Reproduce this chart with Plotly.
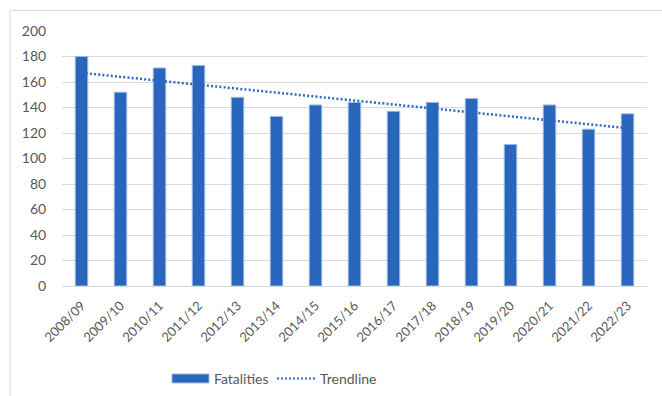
import numpy as np
import plotly.graph_objects as go

years = ["2008/09", "2009/10", "2010/11", "2011/12", "2012/13", "2013/14", "2014/15",
         "2015/16", "2016/17", "2017/18", "2018/19", "2019/20", "2020/21", "2021/22", "2022/23"]
fatalities = [180, 152, 171, 173, 148, 133, 142, 144, 137, 144, 147, 111, 142, 123, 135]

# linear trendline fitted to the data (as the spreadsheet trendline does)
idx = np.arange(len(fatalities))
slope, intercept = np.polyfit(idx, fatalities, 1)
trend = list(slope * idx + intercept)

font_family = "Lato, 'Open Sans', sans-serif"
grey = "#595959"
bar_color = "#2966BE"
bar_edge = "#9DB8E4"
trend_color = "#2E6AC3"

# plot area in pixels (for legend placement conversion)
L, R, T, B = 62, 647, 30.7, 286.3
W, H = R - L, B - T
px = lambda x: (x - L) / W
py = lambda y: (B - y) / H

fig = go.Figure()
fig.add_trace(go.Bar(
    x=years, y=fatalities, name="Fatalities",
    marker=dict(color=bar_color, line=dict(color=bar_edge, width=1)),
    width=0.32, showlegend=False,
))
fig.add_trace(go.Scatter(
    x=years, y=trend, name="Trendline", mode="lines",
    line=dict(color=trend_color, width=2.5, dash="2px,2.2px"), showlegend=False,
))

# outer chart frame (partially cropped on right and bottom)
fig.add_shape(type="line", xref="paper", yref="paper",
              x0=px(10), x1=px(700), y0=py(10), y1=py(10),
              line=dict(color="#D9D9D9", width=1))
fig.add_shape(type="line", xref="paper", yref="paper",
              x0=px(10), x1=px(10), y0=py(10), y1=py(420),
              line=dict(color="#D9D9D9", width=1))

# legend drawn like the spreadsheet legend
ly = 379
fig.add_shape(type="rect", xref="paper", yref="paper",
              x0=px(172), x1=px(209), y0=py(383.5), y1=py(374.5),
              fillcolor=bar_color, line=dict(color=bar_edge, width=1))
fig.add_annotation(xref="paper", yref="paper", x=px(212), y=py(ly), text="Fatalities",
                   showarrow=False, xanchor="left", yanchor="middle",
                   font=dict(size=14, color=grey))
fig.add_shape(type="line", xref="paper", yref="paper",
              x0=px(277), x1=px(317), y0=py(ly), y1=py(ly),
              line=dict(color=trend_color, width=2, dash="2px,2px"))
fig.add_annotation(xref="paper", yref="paper", x=px(318), y=py(ly), text="Trendline",
                   showarrow=False, xanchor="left", yanchor="middle",
                   font=dict(size=14, color=grey))

fig.update_layout(
    width=662, height=396,
    margin=dict(l=62, r=15, t=31, b=110),
    paper_bgcolor="white", plot_bgcolor="white",
    font=dict(family=font_family, color=grey, size=14),
    showlegend=False,
    xaxis=dict(tickangle=-45, tickfont=dict(size=13, color=grey), showgrid=False,
               showline=False, ticks="outside", ticklen=6, tickcolor="rgba(0,0,0,0)",
               automargin=False, fixedrange=True),
    yaxis=dict(range=[0, 200], dtick=20, showgrid=True, gridcolor="#D9D9D9", gridwidth=1,
               zeroline=True, zerolinecolor="#D9D9D9", zerolinewidth=1,
               tickfont=dict(size=14, color=grey), ticks="outside", ticklen=12,
               tickcolor="rgba(0,0,0,0)", showline=False, automargin=False),
)

fig.write_html("out.html")
